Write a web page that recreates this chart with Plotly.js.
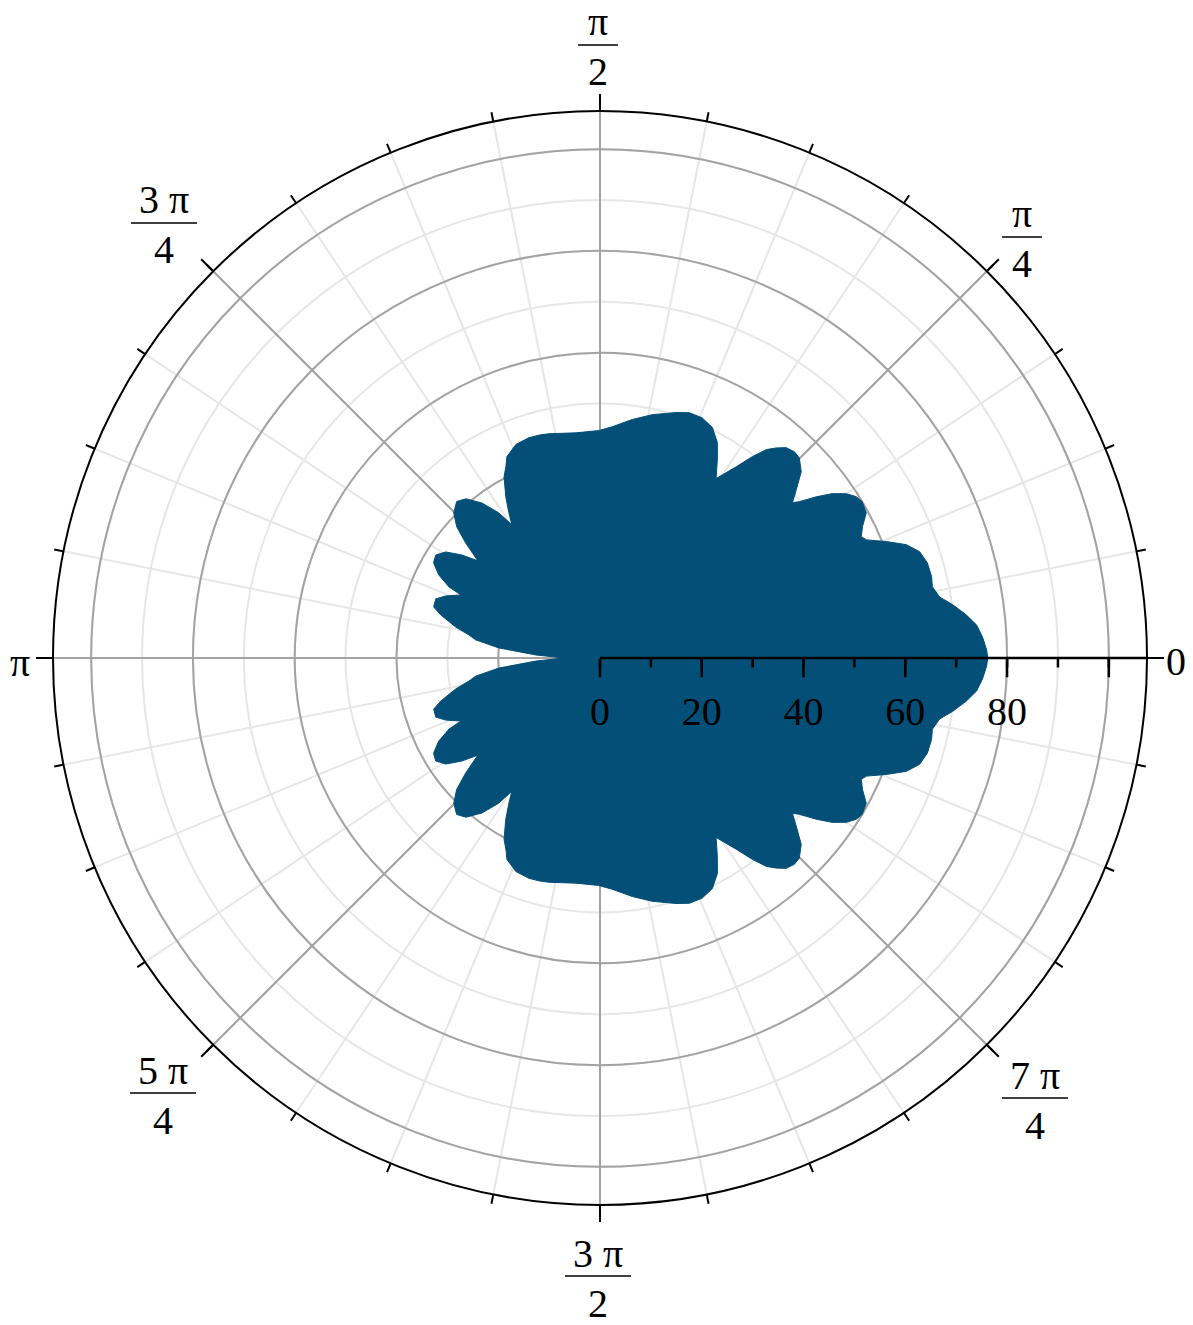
<!DOCTYPE html>
<html>
<head>
<meta charset="utf-8">
<script src="https://cdn.plot.ly/plotly-3.0.1.min.js"></script>
<style>html,body{margin:0;padding:0;background:#fff;}</style>
</head>
<body>
<div id="chart" style="width:1193px;height:1325px;"></div>
<script>
// ---- data (theta in degrees, r in axis units) ----
const thetaUpper = [0,1.2,3.1,5.0,6.7,8.6,10.2,12.1,13.8,16.2,18.4,20.3,22.1,23.9,24.9,26.6,28.6,30.8,32.2,33.7,35.3,36.7,38.1,38.9,40.6,42.8,45.1,46.7,48.5,50.0,51.4,52.9,54.5,57.1,59.4,61.4,64.0,67.0,70.0,72.8,77.9,82.3,87.0,90.3,96.1,102.8,105.1,107.9,111.5,114.8,116.1,117.9,120.3,122.1,123.5,124.9,127.3,130.1,132.5,135.2,137.5,139.4,141.5,143.3,145.5,147.9,150.2,152.7,154.8,155.6,158.1,160.2,162.9,164.9,167.9,170.0,171.7,174.3,177.3,180];
const rUpper = [76.2,76.0,75.3,74.3,72.5,70.1,67.8,66.8,67.1,67.0,66.2,64.2,60.8,57.3,56.6,57.7,59.6,60.0,59.5,58.2,55.9,53.0,49.8,48.6,50.8,53.9,55.5,55.7,55.2,53.9,52.4,49.6,46.2,42.0,45.3,48.2,50.4,51.3,51.3,50.5,48.9,47.3,45.5,44.7,44.5,45.2,45.4,45.5,45.1,43.6,42.0,40.3,36.7,33.7,31.4,34.8,38.3,40.9,41.7,40.5,38.2,34.8,30.7,33.9,36.8,38.1,37.7,35.7,32.8,30.0,32.7,34.3,34.2,32.4,29.0,26.2,24.7,20.0,12.6,7.0];
const thetaLower = [182.7,185.7,188.3,190.0,192.1,195.1,197.1,199.8,201.9,204.4,205.2,207.3,209.8,212.1,214.5,216.7,218.5,220.6,222.5,224.8,227.5,229.9,232.7,235.1,236.5,237.9,239.7,242.1,243.9,245.2,248.5,252.1,254.9,257.2,263.9,269.7,273.0,277.7,282.1,287.2,290.0,293.0,296.0,298.6,300.6,302.9,305.5,307.1,308.6,310.0,311.5,313.3,314.9,317.2,319.4,321.1,321.9,323.3,324.7,326.3,327.8,329.2,331.4,333.4,335.1,336.1,337.9,339.7,341.6,343.8,346.2,347.9,349.8,351.4,353.3,355.0,356.9,358.8,360];
const rLower = [12.6,20.0,24.7,26.2,29.0,32.4,34.2,34.3,32.7,30.0,32.8,35.7,37.7,38.1,36.8,33.9,30.7,34.8,38.2,40.5,41.7,40.9,38.3,34.8,31.4,33.7,36.7,40.3,42.0,43.6,45.1,45.5,45.4,45.2,44.5,44.7,45.5,47.3,48.9,50.5,51.3,51.3,50.4,48.2,45.3,42.0,46.2,49.6,52.4,53.9,55.2,55.7,55.5,53.9,50.8,48.6,49.8,53.0,55.9,58.2,59.5,60.0,59.6,57.7,56.6,57.3,60.8,64.2,66.2,67.0,67.1,66.8,67.8,70.1,72.5,74.3,75.3,76.0,76.2];

const radialTickVals = [0,20,40,60,80,100];
const radialTickText = ['0','20','40','60','80',''];
const angLabelNum = ['0','π','π','3 π','π','5 π','3 π','7 π'];
const angLabelDen = ['','4','2','4','','4','2','4'];

// ---- layout geometry (pixels) ----
const W = 1193, H = 1325;
const CX = 600, CY = 658, R = 547;
const RMAX = 107.5;
const FONT = 'Liberation Serif, Times New Roman, serif';
const FS = 40;
// label anchor: bar centre for fractions, glyph centre for single labels
const labelPos = [[1176,661],[1022,237],[598,45],[164,223],[20,662],[163,1093],[598,1276],[1035,1098]];
const barW = [0,40,40,66,0,66,66,66];

const px = x => x / W;
const py = y => 1 - y / H;

const thetaAll = thetaUpper.concat(thetaLower);
const rAll = rUpper.concat(rLower);

const fillColor = '#034f77';

const shapeTrace = {
  type: 'scatterpolar',
  subplot: 'polar2',
  r: rAll,
  theta: thetaAll,
  mode: 'lines',
  fill: 'toself',
  fillcolor: fillColor,
  line: {color: fillColor, width: 1},
  hoverinfo: 'skip',
  showlegend: false
};

const domain = {x: [px(CX - R), px(CX + R)], y: [py(CY + R), py(CY - R)]};

const annotations = [];
const shapes = [];
for (let i = 0; i < angLabelNum.length; i++) {
  const [bx, by] = labelPos[i];
  const base = {xref: 'paper', yref: 'paper', showarrow: false, xanchor: 'center', yanchor: 'middle',
                font: {family: FONT, size: FS, color: '#000'}};
  if (angLabelDen[i] === '') {
    annotations.push(Object.assign({}, base, {x: px(bx), y: py(by), text: angLabelNum[i]}));
  } else {
    annotations.push(Object.assign({}, base, {x: px(bx), y: py(by - 23), text: angLabelNum[i]}));
    annotations.push(Object.assign({}, base, {x: px(bx), y: py(by + 27), text: angLabelDen[i]}));
    shapes.push({type: 'line', xref: 'paper', yref: 'paper',
      x0: px(bx - barW[i] / 2), x1: px(bx + barW[i] / 2), y0: py(by), y1: py(by),
      line: {color: '#000', width: 1.5}});
  }
}

const layout = {
  width: W, height: H,
  margin: {l: 0, r: 0, t: 0, b: 0},
  paper_bgcolor: '#fff',
  showlegend: false,
  polar: {
    domain: domain, bgcolor: '#fff',
    radialaxis: {range: [0, RMAX], tickmode: 'linear', tick0: 0, dtick: 10, showgrid: true,
      gridcolor: '#e6e6e6', gridwidth: 2, showline: false, ticks: '', showticklabels: false, angle: 0},
    angularaxis: {tickmode: 'linear', tick0: 0, dtick: 11.25, showgrid: true, gridcolor: '#e6e6e6',
      gridwidth: 2, showline: false, ticks: '', showticklabels: false}
  },
  polar2: {
    domain: domain, bgcolor: 'rgba(0,0,0,0)',
    radialaxis: {range: [0, RMAX], tickmode: 'array', tickvals: radialTickVals, ticktext: radialTickText,
      showgrid: true, gridcolor: '#a3a3a3', gridwidth: 2, showline: true, linecolor: '#000', linewidth: 2.5,
      ticks: 'outside', ticklen: 18, tickwidth: 2.5, tickcolor: '#000', angle: 0, side: 'clockwise',
      tickfont: {family: FONT, size: FS, color: '#000'}},
    angularaxis: {tickmode: 'linear', tick0: 0, dtick: 45, showgrid: true, gridcolor: '#a3a3a3', gridwidth: 2,
      showline: true, linecolor: '#000', linewidth: 2, ticks: 'outside', ticklen: 16, tickwidth: 2,
      tickcolor: '#000', showticklabels: false}
  },
  polar3: {
    domain: domain, bgcolor: 'rgba(0,0,0,0)',
    radialaxis: {range: [0, RMAX], tickmode: 'linear', tick0: 0, dtick: 10, showgrid: false, showline: false,
      ticks: 'outside', ticklen: 9, tickwidth: 2.5, tickcolor: '#000', showticklabels: false, angle: 0, side: 'clockwise'},
    angularaxis: {tickmode: 'linear', tick0: 0, dtick: 11.25, showgrid: false, showline: false,
      ticks: 'outside', ticklen: 9, tickwidth: 2, tickcolor: '#000', showticklabels: false}
  },
  annotations: annotations,
  shapes: shapes
};

// empty traces to instantiate polar and polar3
const bgTrace = {type: 'scatterpolar', subplot: 'polar', r: [], theta: [], mode: 'lines', hoverinfo: 'skip', showlegend: false};
const tickTrace = {type: 'scatterpolar', subplot: 'polar3', r: [], theta: [], mode: 'lines', hoverinfo: 'skip', showlegend: false};

Plotly.newPlot('chart', [bgTrace, shapeTrace, tickTrace], layout, {staticPlot: true, displayModeBar: false});
</script>
</body>
</html>
